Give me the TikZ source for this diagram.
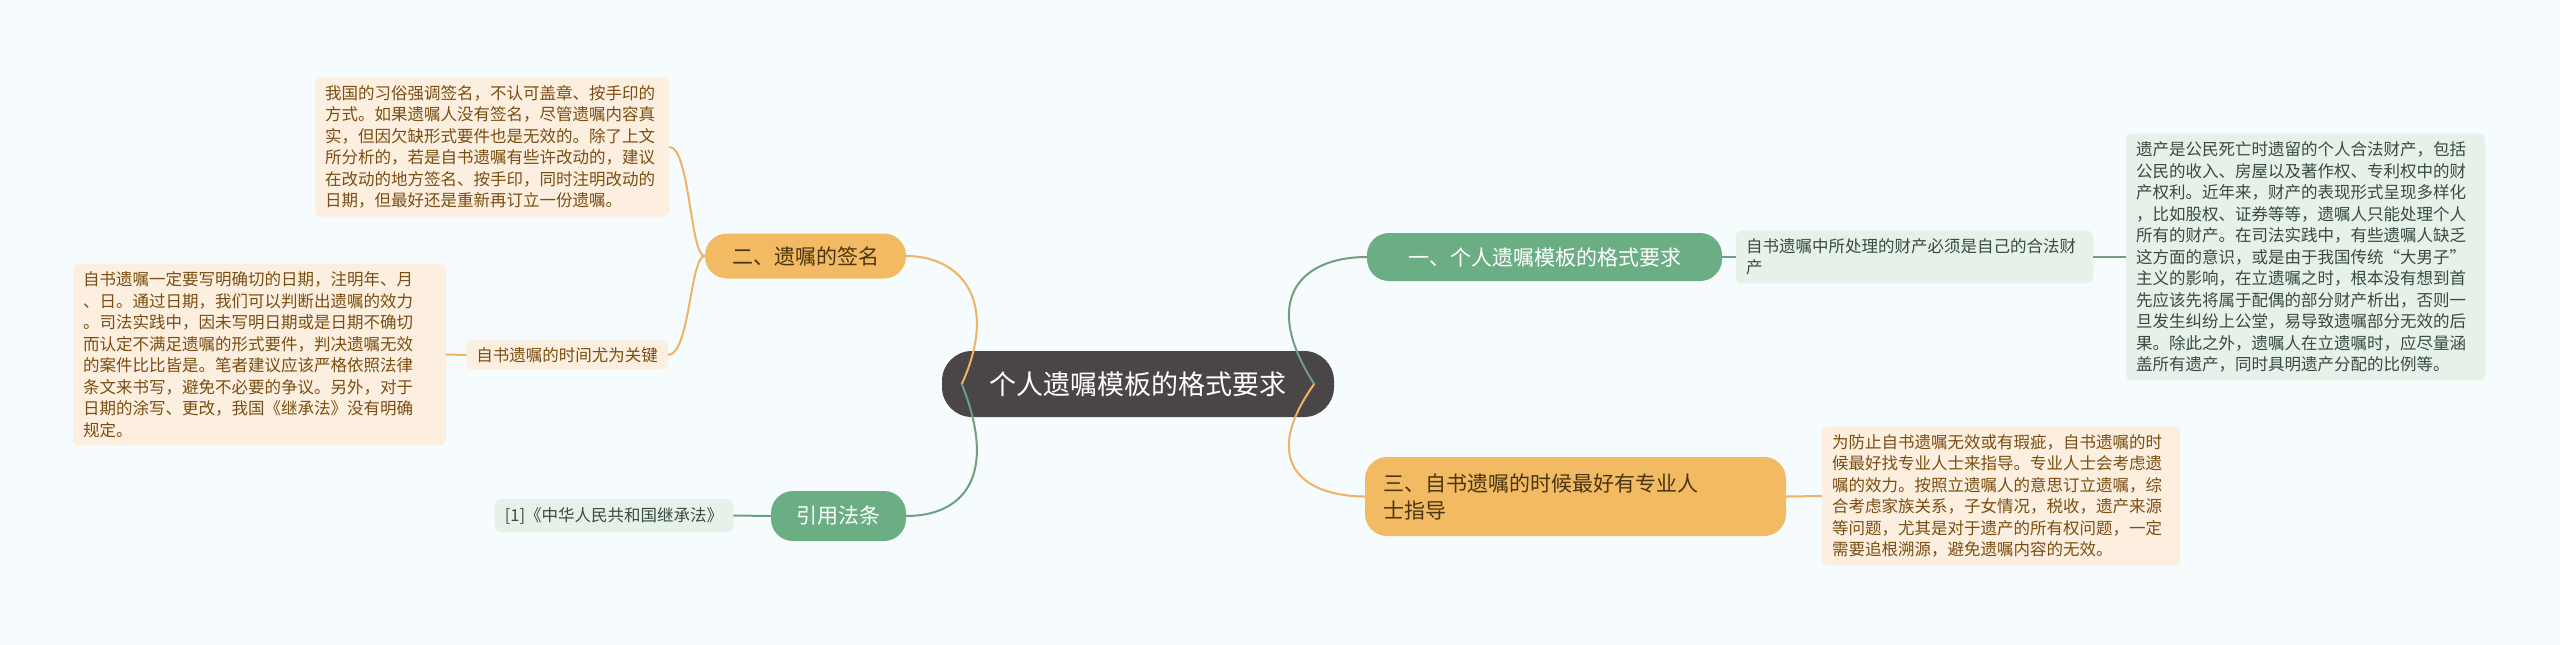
\documentclass[tikz,border=0pt]{standalone}
\usepackage{fontspec}
\setmainfont{Noto Sans CJK SC}
\begin{document}
\begin{tikzpicture}[x=1pt,y=-1pt,
  every node/.style={inner sep=0pt},
  lorange/.style={draw=none,fill=orfill,rounded corners=6pt,text=ortext,font=\fontsize{16.5}{21.5}\selectfont,align=left,inner xsep=10pt,inner ysep=8pt},
  lgreen/.style={draw=none,fill=grfill,rounded corners=6pt,text=grtext,font=\fontsize{16.5}{21.5}\selectfont,align=left,inner xsep=10pt,inner ysep=8pt},
  obranch/.style={fill=orbr,rounded corners=22pt,text=brtext,font=\fontsize{21}{27}\selectfont,align=left,inner xsep=18pt,inner ysep=10pt},
  gbranch/.style={fill=grbr,rounded corners=22pt,text=white,font=\fontsize{21}{27}\selectfont,align=left,inner xsep=18pt,inner ysep=10pt},
  oline/.style={draw=orline,line width=2pt},
  gline/.style={draw=grline,line width=2pt}]
\definecolor{bg}{HTML}{F6FBFD}
\definecolor{orfill}{HTML}{FDEFDF}
\definecolor{ortext}{HTML}{7A4E12}
\definecolor{grfill}{HTML}{E6F1EA}
\definecolor{grtext}{HTML}{3A4A40}
\definecolor{orbr}{HTML}{F2BA62}
\definecolor{grbr}{HTML}{6CAE84}
\definecolor{brtext}{HTML}{4A3510}
\definecolor{orline}{HTML}{EDB462}
\definecolor{grline}{HTML}{6E9F82}
\definecolor{ctr}{HTML}{4A4546}
\fill[bg] (0,0) rectangle (2560,645);
\useasboundingbox (0,0) rectangle (2560,645);

\node[fill=ctr,rounded corners=30pt,text=white,font=\fontsize{27}{32}\selectfont,minimum width=392pt,minimum height=66pt] (c) at (1138,384) {个人遗嘱模板的格式要求};

% left side
\node[obranch,minimum width=201pt,minimum height=45pt] (b2) at (805.5,256) {二、遗嘱的签名};
\node[lorange,text width=334pt] (t1) at (492,147) {我国的习俗强调签名，不认可盖章、按手印的\\方式。如果遗嘱人没有签名，尽管遗嘱内容真\\实，但因欠缺形式要件也是无效的。除了上文\\所分析的，若是自书遗嘱有些许改动的，建议\\在改动的地方签名、按手印，同时注明改动的\\日期，但最好还是重新再订立一份遗嘱。};
\node[lorange,inner ysep=7pt] (k) at (567,355) {自书遗嘱的时间尤为关键};
\node[lorange,text width=353pt] (t2) at (259.5,354.5) {自书遗嘱一定要写明确切的日期，注明年、月\\、日。通过日期，我们可以判断出遗嘱的效力\\。司法实践中，因未写明日期或是日期不确切\\而认定不满足遗嘱的形式要件，判决遗嘱无效\\的案件比比皆是。笔者建议应该严格依照法律\\条文来书写，避免不必要的争议。另外，对于\\日期的涂写、更改，我国《继承法》没有明确\\规定。};
\node[gbranch,minimum width=135pt,minimum height=50pt,align=center] (b4) at (838.5,516) {引用法条};
\node[lgreen,inner ysep=8pt] (law) at (614,515.5) {[1]《中华人民共和国继承法》};

% right side
\node[gbranch,minimum width=355pt,minimum height=48pt] (b1) at (1544.5,257) {一、个人遗嘱模板的格式要求};
\node[lgreen,text width=337pt] (g1) at (1914.5,257) {自书遗嘱中所处理的财产必须是自己的合法财\\产};
\node[lgreen,text width=339pt] (g2) at (2305.5,257) {遗产是公民死亡时遗留的个人合法财产，包括\\公民的收入、房屋以及著作权、专利权中的财\\产权利。近年来，财产的表现形式呈现多样化\\，比如股权、证券等等，遗嘱人只能处理个人\\所有的财产。在司法实践中，有些遗嘱人缺乏\\这方面的意识，或是由于我国传统“大男子”\\主义的影响，在立遗嘱之时，根本没有想到首\\先应该先将属于配偶的部分财产析出，否则一\\旦发生纠纷上公堂，易导致遗嘱部分无效的后\\果。除此之外，遗嘱人在立遗嘱时，应尽量涵\\盖所有遗产，同时具明遗产分配的比例等。};
\node[obranch,minimum width=421pt,minimum height=79pt,text width=385pt] (b3) at (1575.5,496.5) {三、自书遗嘱的时候最好有专业人\\士指导};
\node[lorange,text width=338pt] (o3) at (2001,496) {为防止自书遗嘱无效或有瑕疵，自书遗嘱的时\\候最好找专业人士来指导。专业人士会考虑遗\\嘱的效力。按照立遗嘱人的意思订立遗嘱，综\\合考虑家族关系，子女情况，税收，遗产来源\\等问题，尤其是对于遗产的所有权问题，一定\\需要追根溯源，避免遗嘱内容的无效。};

% connectors
\draw[oline] ([xshift=20pt]c.west) .. controls (1000,300) and (960,256) .. (b2.east);
\draw[gline] ([xshift=20pt]c.west) .. controls (1000,480) and (960,516) .. (b4.east);
\draw[gline] ([xshift=-20pt]c.east) .. controls (1260,300) and (1300,257) .. (b1.west);
\draw[oline] ([xshift=-20pt]c.east) .. controls (1260,460) and (1300,496) .. (b3.west);
\draw[oline] (b2.west) .. controls (690,256) and (690,147) .. (t1.east);
\draw[oline] (b2.west) .. controls (690,256) and (690,355) .. (k.east);
\draw[oline] (k.west) -- (t2.east);
\draw[gline] (b4.west) -- (law.east);
\draw[gline] (b1.east) -- (g1.west);
\draw[gline] (g1.east) -- (g2.west);
\draw[oline] (b3.east) -- (o3.west);
\end{tikzpicture}
\end{document}
